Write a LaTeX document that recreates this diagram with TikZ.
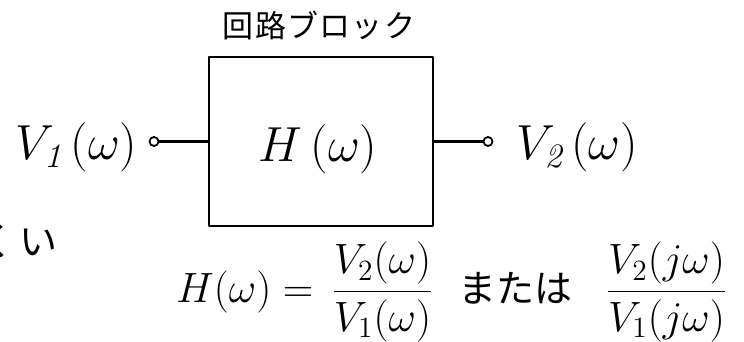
\documentclass[tikz,border=0pt]{standalone}
\usepackage{fontspec}
\newfontfamily\jp{Noto Sans CJK JP}
\tikzset{
  lbl/.style={font=\LARGE,scale=2.85,inner sep=0pt},
  jptext/.style={font=\jp\fontsize{31}{31}\selectfont,inner sep=0pt},
  eqn/.style={font=\LARGE,scale=2.45,inner sep=0pt},
  blockbox/.style={draw,line width=2.6pt,minimum width=224pt,minimum height=169pt,inner sep=0pt},
  terminal/.style={circle,draw,line width=1.8pt,minimum size=9pt,inner sep=0pt},
  wire/.style={line width=2.6pt}
}
\begin{document}
\begin{tikzpicture}[x=1pt,y=-1pt,line join=round,line cap=round]
  \useasboundingbox (0,0) rectangle (744,342);
  \clip (0,0) rectangle (744,342);

  % ブロック本体
  \node[blockbox] (box) at (321,141.5) {};
  \node[lbl,anchor=base] (h) at (318,161) {$H\,(\omega)$};
  \node[jptext] (title) at (319,25) {\addfontfeature{LetterSpace=4}回路ブロック};

  % 入出力端子
  \node[terminal] (t1) at (154,141.5) {};
  \node[terminal] (t2) at (488,141.5) {};
  \draw[wire] (t1) -- (box.west);
  \draw[wire] (box.east) -- (t2);

  % 端子のラベル
  \node[lbl,anchor=base east] (v1) at (138,160) {$V_{\mathit{1}}\,(\omega)$};
  \node[lbl,anchor=base west] (v2) at (516,160) {$V_{\mathit{2}}\,(\omega)$};

  % 伝達関数
  \node[font=\jp\fontsize{38}{38}\selectfont,inner sep=0pt,anchor=east] (frag) at (58,241) {く\kern5pt い};
  \node[eqn,anchor=east] (lhs) at (314,292) {$H(\omega)=$};
  \node[eqn] (f1) at (382.5,292) {$\displaystyle\frac{V_2(\omega)}{V_1(\omega)}$};
  \node[font=\jp\fontsize{38}{38}\selectfont,inner sep=0pt] (or) at (515.5,288) {または};
  \node[eqn] (f2) at (666.5,292) {$\displaystyle\frac{V_2(j\omega)}{V_1(j\omega)}$};
\end{tikzpicture}
\end{document}
